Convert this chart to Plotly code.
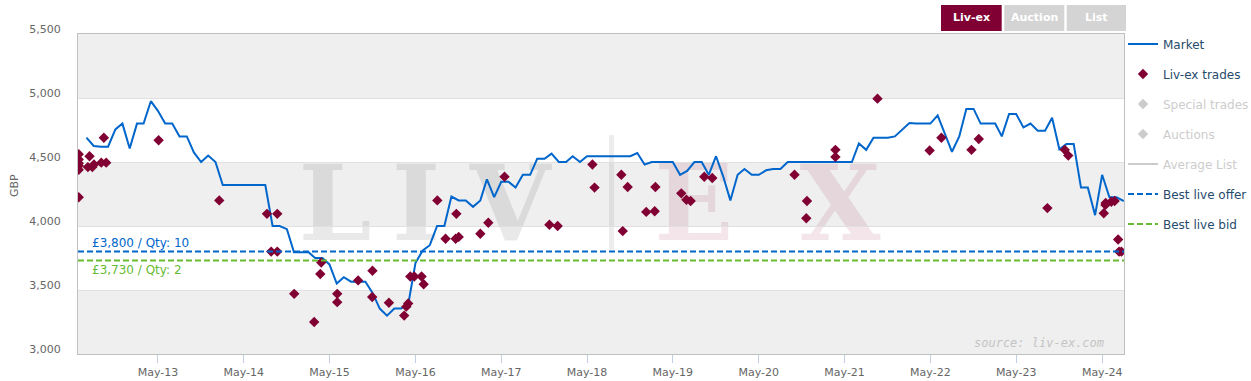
import plotly.graph_objects as go
import pandas as pd

# ---------------- data ----------------
market_start = "2012-07-01"   # monthly series, first of each month
market_values = [
    4690, 4625, 4620, 4620, 4755, 4800, 4605, 4800, 4800, 4975,
    4900, 4800, 4800, 4700, 4700, 4575, 4500, 4550, 4500, 4320,
    4320, 4320, 4320, 4320, 4320, 4320, 4000, 4000, 3975, 3795,
    3795, 3795, 3750, 3750, 3700, 3550, 3600, 3565, 3565, 3565,
    3475, 3355, 3300, 3355, 3355, 3395, 3710, 3810, 3850, 4000,
    4000, 4230, 4200, 4200, 4150, 4200, 4365, 4225, 4345, 4345,
    4300, 4400, 4400, 4525, 4525, 4565, 4500, 4500, 4545, 4500,
    4545, 4545, 4545, 4545, 4545, 4545, 4545, 4570, 4480, 4500,
    4500, 4500, 4500, 4400, 4430, 4500, 4500, 4400, 4545, 4390,
    4200, 4400, 4445, 4400, 4400, 4435, 4445, 4445, 4500, 4500,
    4500, 4500, 4500, 4500, 4500, 4500, 4500, 4500, 4645, 4595,
    4690, 4690, 4690, 4700, 4750, 4805, 4800, 4800, 4800, 4865,
    4720, 4580, 4700, 4915, 4915, 4800, 4800, 4800, 4700, 4875,
    4875, 4770, 4800, 4745, 4745, 4845, 4600, 4640, 4640, 4300,
    4300, 4085, 4400, 4225, 4225, 4195,
]

trade_dates = [
    "2012-05-29", "2012-05-29", "2012-05-29", "2012-05-29", "2012-05-29", "2012-05-29",
    "2012-07-14", "2012-07-07", "2012-07-26", "2012-08-02", "2012-09-02", "2012-09-23",
    "2012-09-13", "2013-05-04", "2014-01-17", "2014-08-08", "2014-09-21", "2014-08-26",
    "2014-09-21", "2014-12-02", "2015-02-25", "2015-03-27", "2015-03-23", "2015-06-03",
    "2015-06-03", "2015-08-31", "2015-10-31", "2015-10-30", "2016-01-09", "2016-03-14",
    "2016-03-23", "2016-03-31", "2016-04-09", "2016-04-26", "2016-05-27", "2016-06-05",
    "2016-08-02", "2016-09-06", "2016-10-22", "2016-10-19", "2016-11-01", "2017-02-01",
    "2017-03-07", "2017-05-15", "2017-11-22", "2017-12-27", "2018-05-24", "2018-06-02",
    "2018-09-24", "2018-09-30", "2018-10-21", "2019-01-08", "2019-02-13", "2019-02-16",
    "2019-06-06", "2019-06-28", "2019-07-16", "2019-09-12", "2019-10-16", "2020-09-30",
    "2020-11-22", "2020-11-19", "2021-03-23", "2021-03-23", "2021-09-18", "2022-04-28",
    "2022-06-17", "2022-10-23", "2022-11-23", "2023-09-11", "2023-11-24", "2023-12-09",
    "2024-05-08", "2024-05-15", "2024-05-16", "2024-06-09", "2024-06-23", "2024-07-08",
    "2024-07-12", "2024-07-22",
]
trade_values = [
    4560, 4520, 4490, 4470, 4440, 4225,
    4545, 4460, 4460, 4480, 4495, 4495,
    4690, 4670, 4200, 4095, 4095, 3800,
    3800, 3470, 3250, 3715, 3625, 3470,
    3405, 3575, 3650, 3445, 3400, 3300,
    3370, 3395, 3605, 3605, 3605, 3545,
    4200, 3900, 4095, 3900, 3915, 3940,
    4025, 4385, 4010, 4000, 4480, 4300,
    4400, 3960, 4305, 4110, 4115, 4305,
    4255, 4205, 4195, 4385, 4375, 4400,
    4195, 4060, 4595, 4540, 4995, 4590,
    4690, 4595, 4680, 4140, 4595, 4550,
    4100, 4165, 4180, 4190, 4195, 3895,
    3800, 3800,
]

best_offer, offer_qty = 3800, 10
best_bid, bid_qty = 3730, 2

x_range = ["2012-05-26", "2024-08-02"]
y_range = [3000, 5500]
y_ticks = [3000, 3500, 4000, 4500, 5000, 5500]
white_bands = [(3500, 4000), (4500, 5000)]
tick_dates = ["2013-05-01", "2014-05-01", "2015-05-01", "2016-05-01", "2017-05-01",
              "2018-05-01", "2019-05-01", "2020-05-01", "2021-05-01", "2022-05-01",
              "2023-05-01", "2024-05-01"]
tick_labels = ["May-13", "May-14", "May-15", "May-16", "May-17", "May-18",
               "May-19", "May-20", "May-21", "May-22", "May-23", "May-24"]
buttons = ["Liv-ex", "Auction", "List"]

# ---------------- styling ----------------
BLUE = "#0066cc"
MAROON = "#800033"
GREEN = "#66bb33"
LEGEND_TXT = "#274b6d"
FONT = "DejaVu Sans"
W, H = 1251, 381

market_dates = pd.date_range(market_start, periods=len(market_values), freq="MS")

PL, PR, PT, PB = 78, 1124, 34, 354   # plot area in pixels


def pxx(px):
    return (px - PL) / (PR - PL)


def pxy(py):
    return (PB - py) / (PB - PT)


def hidden_name(s):
    return f"<span style='color:#9a9a9a'>{s}</span>"


fig = go.Figure()

fig.add_trace(go.Scatter(
    x=market_dates, y=market_values, mode="lines", name="Market",
    line=dict(color=BLUE, width=2), legendgroup="g1"))
fig.add_trace(go.Scatter(
    x=pd.to_datetime(trade_dates), y=trade_values, mode="markers", name="Liv-ex trades",
    marker=dict(symbol="diamond", size=8, color=MAROON), legendgroup="g2"))
fig.add_trace(go.Scatter(
    x=[None], y=[None], mode="markers", name=hidden_name("Special trades"),
    visible="legendonly", showlegend=True,
    marker=dict(symbol="diamond", size=8, color="#9a9a9a"), legendgroup="g3"))
fig.add_trace(go.Scatter(
    x=[None], y=[None], mode="markers", name=hidden_name("Auctions"),
    visible="legendonly", showlegend=True,
    marker=dict(symbol="diamond", size=8, color="#9a9a9a"), legendgroup="g4"))
fig.add_trace(go.Scatter(
    x=[None], y=[None], mode="lines", name=hidden_name("Average List"),
    visible="legendonly", showlegend=True,
    line=dict(color="#9a9a9a", width=2), legendgroup="g5"))
fig.add_trace(go.Scatter(
    x=x_range, y=[best_offer, best_offer], mode="lines", name="Best live offer",
    line=dict(color=BLUE, width=2, dash="6px,3px"), legendgroup="g6", hoverinfo="skip"))
fig.add_trace(go.Scatter(
    x=x_range, y=[best_bid, best_bid], mode="lines", name="Best live bid",
    line=dict(color=GREEN, width=2, dash="6px,3px"), legendgroup="g7", hoverinfo="skip"))

shapes = []
for lo, hi in white_bands:
    shapes.append(dict(type="rect", xref="paper", x0=0, x1=1, yref="y", y0=lo, y1=hi,
                       fillcolor="white", line=dict(width=0), layer="below"))

# watermark (LIV | EX)
shapes.append(dict(type="rect", xref="paper", yref="paper",
                   x0=pxx(609), x1=pxx(614), y0=pxy(250), y1=pxy(135),
                   fillcolor="rgba(0,0,0,0.07)", line=dict(width=0), layer="below"))
wm_letters = [("L", 335, "rgba(0,0,0,0.085)"), ("I", 416, "rgba(0,0,0,0.085)"),
              ("V", 510, "rgba(0,0,0,0.085)"), ("E", 694, "rgba(140,0,48,0.10)"),
              ("X", 840, "rgba(140,0,48,0.10)")]
for ch, cx, col in wm_letters:
    shapes.append(dict(type="rect", xref="paper", yref="paper",
                       x0=pxx(cx - 70), x1=pxx(cx + 70), y0=pxy(248), y1=pxy(146),
                       fillcolor="rgba(0,0,0,0)", line=dict(width=0), layer="between",
                       label=dict(text=ch, textposition="middle center",
                                  font=dict(family="DejaVu Serif", size=104, color=col,
                                            weight=700))))

annotations = []
# buttons
btn_pos = [(941, 1001.7, MAROON), (1004.3, 1064.3, "#d4d4d4"), (1066.7, 1126, "#d4d4d4")]
for label, (x0, x1, col) in zip(buttons, btn_pos):
    shapes.append(dict(type="rect", xref="paper", yref="paper",
                       x0=pxx(x0), x1=pxx(x1), y0=pxy(31), y1=pxy(5),
                       fillcolor=col, line=dict(width=0), layer="above"))
    annotations.append(dict(xref="paper", yref="paper", x=pxx((x0 + x1) / 2), y=pxy(18),
                            text=f"<b>{label}</b>", showarrow=False,
                            xanchor="center", yanchor="middle",
                            font=dict(family=FONT, size=11, color="#ffffff")))

annotations.append(dict(xref="paper", yref="y", x=pxx(90), y=best_offer, yshift=9,
                        text=f"£{best_offer:,} / Qty: {offer_qty}", showarrow=False,
                        xanchor="left", yanchor="middle",
                        font=dict(family=FONT, size=12, color=BLUE)))
annotations.append(dict(xref="paper", yref="y", x=pxx(90), y=best_bid, yshift=-9,
                        text=f"£{best_bid:,} / Qty: {bid_qty}", showarrow=False,
                        xanchor="left", yanchor="middle",
                        font=dict(family=FONT, size=12, color=GREEN)))
annotations.append(dict(xref="paper", yref="paper", x=pxx(1106), y=pxy(343),
                        text="source: liv-ex.com", showarrow=False,
                        xanchor="right", yanchor="middle",
                        font=dict(family="DejaVu Sans Mono", size=12, color="#c4c4c4",
                                  style="italic")))
annotations.append(dict(xref="paper", yref="paper", x=pxx(14), y=pxy(186),
                        text="GBP", showarrow=False, textangle=-90,
                        xanchor="center", yanchor="middle",
                        font=dict(family=FONT, size=11, color="#666666")))

fig.update_layout(
    width=W, height=H,
    margin=dict(l=PL, r=W - PR, t=PT, b=H - PB, pad=0, autoexpand=False),
    paper_bgcolor="white", plot_bgcolor="#efefef",
    font=dict(family=FONT, size=11, color="#666666"),
    showlegend=True,
    legend=dict(xref="container", yref="container",
                x=1123 / W, y=1 - 29.5 / H, xanchor="left", yanchor="top",
                traceorder="grouped", tracegroupgap=11, maxheight=330,
                font=dict(family=FONT, size=12, color=LEGEND_TXT),
                bgcolor="rgba(0,0,0,0)", borderwidth=0),
    shapes=shapes, annotations=annotations,
    xaxis=dict(type="date", range=x_range, tickvals=tick_dates, ticktext=tick_labels,
               ticks="outside", ticklen=8, tickcolor="#c0d0e0", tickwidth=1,
               showgrid=False, zeroline=False, showline=True, linecolor="#c0c0c0",
               linewidth=1, mirror=True, automargin=False,
               tickfont=dict(family=FONT, size=11, color="#666666")),
    yaxis=dict(range=y_range, tickvals=y_ticks, tickformat=",d",
               showgrid=True, gridcolor="#e0e0e0", gridwidth=1, zeroline=False,
               showline=True, linecolor="#c0c0c0", linewidth=1, mirror=True,
               ticks="", ticklabelstandoff=14, ticklabelshift=-5, automargin=False,
               tickfont=dict(family=FONT, size=11, color="#666666")),
    hovermode="closest",
)

fig.write_html("out.html", config={"displayModeBar": False},
               post_script="document.body.style.margin='0';")
